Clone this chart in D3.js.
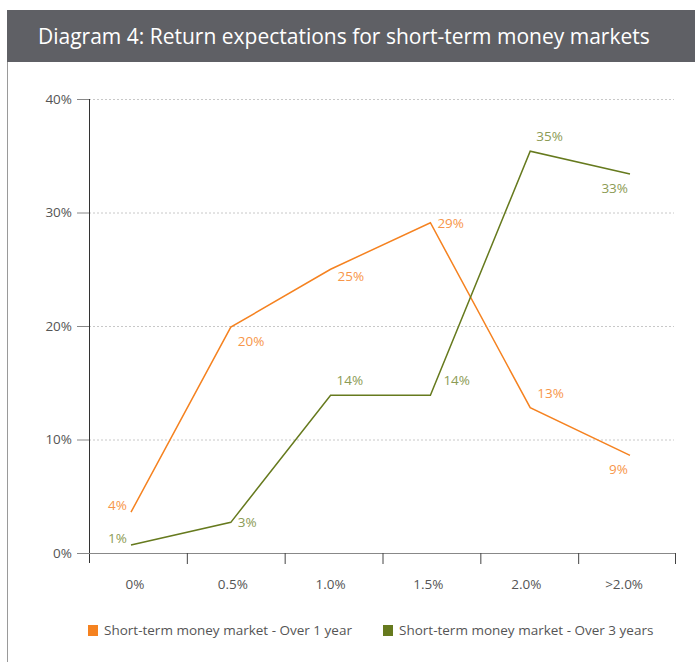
<!DOCTYPE html>
<html>
<head>
<meta charset="utf-8">
<script src="https://cdn.jsdelivr.net/npm/d3@7"></script>
<style>
  body { margin: 0; background: #fff; }
  text { font-family: "Open Sans", sans-serif; }
</style>
</head>
<body>
<div id="chart"></div>
<script>
// chart data
var categories = ["0%", "0.5%", "1.0%", "1.5%", "2.0%", ">2.0%"];
var oneYear = [3.6, 19.9, 25.0, 29.1, 12.8, 8.6];
var threeYears = [0.7, 2.7, 13.9, 13.9, 35.4, 33.4];
var yTicks = [0, 10, 20, 30, 40];
var seriesNames = ["Short-term money market - Over 1 year", "Short-term money market - Over 3 years"];

// where each value label sits relative to its point
var oneYearLabelPos = ["left", "belowRight", "rightLow", "right", "aboveRight", "belowLeft"];
var threeYearsLabelPos = ["left", "right", "above", "aboveFarRight", "above", "belowLeft"];

var W = 695, H = 662;
var svg = d3.select("#chart").append("svg")
    .attr("width", W)
    .attr("height", H);

// header bar
svg.append("rect")
    .attr("x", 7).attr("y", 10)
    .attr("width", W - 7).attr("height", 52)
    .attr("fill", "#5f6065");
svg.append("text")
    .attr("x", 38).attr("y", 44)
    .attr("fill", "#fff")
    .style("font-size", "21px")
    .text("Diagram 4: Return expectations for short-term money markets");
svg.append("line")
    .attr("x1", 7.5).attr("x2", 7.5)
    .attr("y1", 62).attr("y2", H)
    .attr("stroke", "#9a9a9a").attr("stroke-width", 1);

var plotLeft = 89, plotRight = 676, plotTop = 99, plotBottom = 553;

var y = d3.scaleLinear().domain([0, 40]).range([plotBottom, plotTop]);
var xBand = d3.scaleBand().domain(categories).range([plotLeft, plotRight]);
var xPt = d3.scalePoint().domain(categories).range([131, 630]);

// gridlines
svg.append("g").selectAll("line")
    .data(yTicks.filter(function (d) { return d > 0; }))
    .enter().append("line")
    .attr("x1", plotLeft).attr("x2", 674)
    .attr("y1", function (d) { return y(d) + 0.5; })
    .attr("y2", function (d) { return y(d) + 0.5; })
    .attr("stroke", "#c8c8c8")
    .attr("stroke-dasharray", "2,2");

// y axis
var yAxis = svg.append("g")
    .attr("transform", "translate(" + plotLeft + ",0)")
    .call(d3.axisLeft(y).tickValues(yTicks).tickSize(12).tickPadding(5)
        .tickFormat(function (d) { return d + "%"; }));
yAxis.select(".domain").attr("stroke", "#333").attr("d", "M0.5," + plotTop + "V" + (plotBottom + 10));
yAxis.selectAll(".tick line").attr("stroke", "#888");
yAxis.selectAll(".tick text").attr("fill", "#555").style("font-size", "13.5px")
    .style("font-family", "Open Sans, sans-serif");

// x axis
var xAxis = svg.append("g")
    .attr("transform", "translate(0," + plotBottom + ")")
    .call(d3.axisBottom(xBand).tickSize(0).tickPadding(26));
xAxis.select(".domain").attr("stroke", "#888").attr("d", "M" + (plotLeft - 12) + ",0.5H" + plotRight);
xAxis.selectAll(".tick text").attr("fill", "#555").style("font-size", "13.5px")
    .style("font-family", "Open Sans, sans-serif").attr("dx", "-3");
svg.append("g").selectAll("line")
    .data(categories.slice(1).concat(["end"]))
    .enter().append("line")
    .attr("x1", function (d) { return d === "end" ? plotRight - 0.5 : xBand(d) + 0.5; })
    .attr("x2", function (d) { return d === "end" ? plotRight - 0.5 : xBand(d) + 0.5; })
    .attr("y1", plotBottom).attr("y2", plotBottom + 11)
    .attr("stroke", "#444");

var series = [
    {name: seriesNames[0], values: oneYear, pos: oneYearLabelPos, line: "#f58220", label: "#f7964a"},
    {name: seriesNames[1], values: threeYears, pos: threeYearsLabelPos, line: "#667a1e", label: "#8c9b55"}
];

var line = d3.line()
    .x(function (d, i) { return xPt(categories[i]); })
    .y(function (d) { return y(d); });

series.forEach(function (s) {
    svg.append("path")
        .attr("d", line(s.values))
        .attr("fill", "none")
        .attr("stroke", s.line)
        .attr("stroke-width", 1.5);

    svg.append("g").selectAll("text")
        .data(s.values)
        .enter().append("text")
        .attr("x", function (d, i) {
            var p = s.pos[i], x0 = xPt(categories[i]);
            if (p === "left") return x0 - 4;
            if (p === "belowLeft") return x0 - 2;
            if (p === "above") return x0 + 6;
            if (p === "aboveFarRight") return x0 + 13;
            return x0 + 7;
        })
        .attr("y", function (d, i) {
            var p = s.pos[i], y0 = y(d);
            if (p === "left") return y0 - 2;
            if (p === "right") return y0 + 5;
            if (p === "rightLow") return y0 + 12;
            if (p === "above" || p === "aboveRight" || p === "aboveFarRight") return y0 - 10;
            return y0 + 19;
        })
        .attr("text-anchor", function (d, i) {
            var p = s.pos[i];
            return (p === "left" || p === "belowLeft") ? "end" : "start";
        })
        .attr("fill", s.label)
        .style("font-size", "13.5px")
        .text(function (d) { return Math.round(d) + "%"; });
});

// legend
var legend = svg.append("g").attr("transform", "translate(88,625)");
var lx = [0, 295];
series.forEach(function (s, i) {
    var g = legend.append("g").attr("transform", "translate(" + lx[i] + ",0)");
    g.append("rect").attr("width", 10).attr("height", 11).attr("fill", s.line);
    g.append("text").attr("x", 16).attr("y", 10)
        .attr("fill", "#555").style("font-size", "13.5px")
        .text(s.name);
});
</script>
</body>
</html>
